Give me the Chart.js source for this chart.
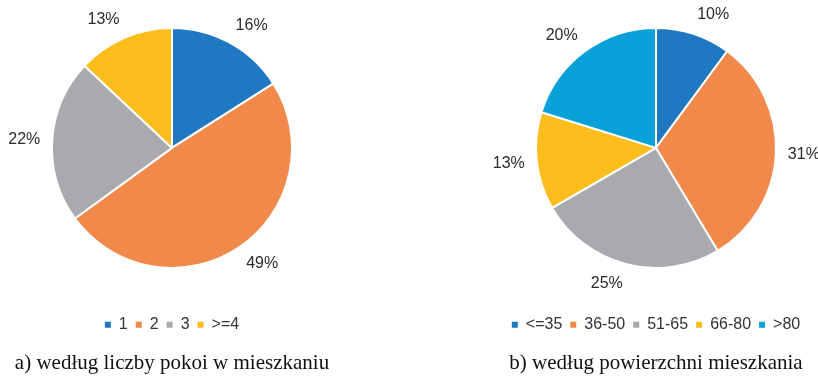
<!DOCTYPE html>
<html>
<head>
<meta charset="utf-8">
<script src="https://cdn.jsdelivr.net/npm/chart.js@4.4.0/dist/chart.umd.min.js"></script>
<style>
  html, body { margin: 0; padding: 0; background: #fff; }
  body { width: 818px; height: 376px; overflow: hidden; position: relative; }
  .pie-box { position: absolute; top: -13px; height: 389px; }
  #roomsBox { left: 0; width: 344px; }
  #areaBox { left: 488px; width: 336px; }
</style>
</head>
<body>
<div class="pie-box" id="roomsBox"><canvas id="roomsChart"></canvas></div>
<div class="pie-box" id="areaBox"><canvas id="areaChart"></canvas></div>
<script>
// a) number of rooms
const roomLabels = ['1', '2', '3', '>=4'];
const roomShares = [16, 49, 22, 13];
const roomColors = ['#1f78c1', '#f0894a', '#a9aaad', '#fcbd1d'];
const roomTitle = 'a) według liczby pokoi w mieszkaniu';

// b) floor area in m2
const areaLabels = ['<=35', '36-50', '51-65', '66-80', '>80'];
const areaShares = [10, 31, 25, 13, 20];
const areaColors = ['#1f78c1', '#f0894a', '#a9aaad', '#fcbd1d', '#0aa0da'];
const areaTitle = 'b) według powierzchni mieszkania';

const sansFont = '"Liberation Sans", Arial, sans-serif';
const serifFont = '"Liberation Serif", "Times New Roman", serif';

// percent labels just outside each slice
const outsideLabels = {
  id: 'outsideLabels',
  afterDatasetsDraw(chart) {
    const ctx = chart.ctx;
    const meta = chart.getDatasetMeta(0);
    const values = chart.data.datasets[0].data;
    ctx.save();
    ctx.font = '16px ' + sansFont;
    ctx.fillStyle = '#2b2b2b';
    ctx.textAlign = 'center';
    ctx.textBaseline = 'middle';
    meta.data.forEach((arc, i) => {
      const mid = (arc.startAngle + arc.endAngle) / 2;
      const dx = Math.cos(mid);
      const dy = Math.sin(mid);
      const text = values[i] + '%';
      const w = ctx.measureText(text).width;
      const r = arc.outerRadius + 12;
      const x = arc.x + dx * r + Math.sign(dx) * w / 2;
      const y = arc.y + dy * r + dy * 8;
      ctx.fillText(text, x, y);
    });
    ctx.restore();
  }
};

function makePie(canvasId, labels, values, colors, title) {
  return new Chart(document.getElementById(canvasId), {
    type: 'pie',
    data: {
      labels: labels,
      datasets: [{
        data: values,
        backgroundColor: colors,
        borderColor: '#ffffff',
        borderWidth: 2
      }]
    },
    options: {
      responsive: true,
      maintainAspectRatio: false,
      animation: false,
      radius: 120,
      layout: { padding: 0 },
      plugins: {
        tooltip: { enabled: false },
        legend: {
          position: 'bottom',
          labels: {
            boxWidth: 6,
            boxHeight: 6,
            padding: 8,
            color: '#333',
            font: { family: sansFont, size: 16 },
            generateLabels(chart) {
              const items = Chart.overrides.pie.plugins.legend.labels.generateLabels(chart);
              return items.map(item => Object.assign(item, { lineWidth: 0 }));
            }
          }
        },
        title: {
          display: true,
          position: 'bottom',
          text: title,
          color: '#111',
          font: { family: serifFont, size: 21, weight: 'normal' },
          padding: { top: 8, bottom: 0 }
        }
      }
    },
    plugins: [outsideLabels]
  });
}

makePie('roomsChart', roomLabels, roomShares, roomColors, roomTitle);
makePie('areaChart', areaLabels, areaShares, areaColors, areaTitle);
</script>
</body>
</html>
